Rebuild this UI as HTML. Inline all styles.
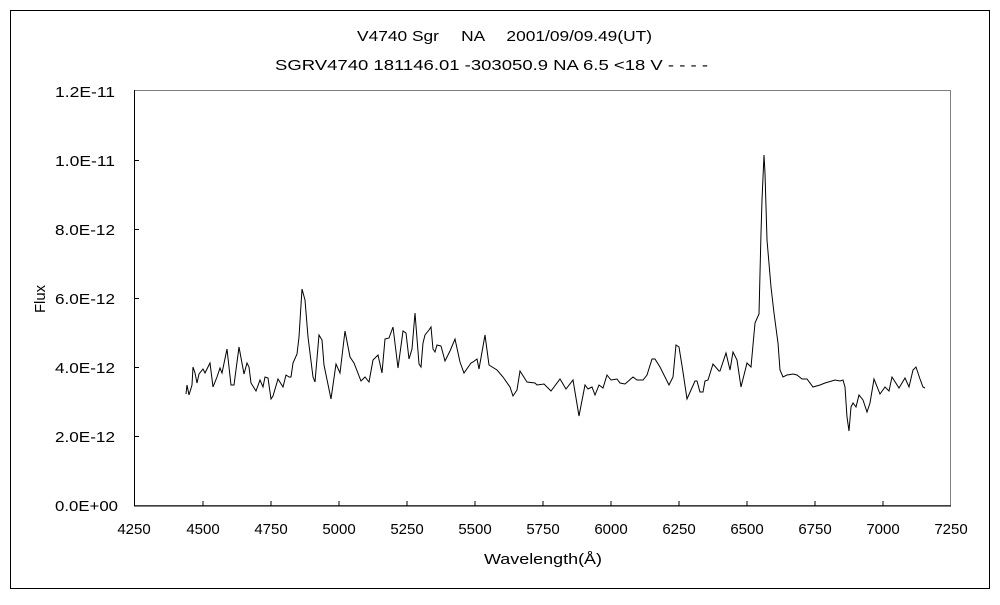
<!DOCTYPE html>
<html><head><meta charset="utf-8"><style>body{margin:0;background:#fff}</style></head><body>
<svg width="1000" height="600" xmlns="http://www.w3.org/2000/svg" font-family="'Liberation Sans','Noto Sans CJK JP',sans-serif" font-size="15">
<rect x="0" y="0" width="1000" height="600" fill="#fff"/>
<rect x="10.5" y="10.5" width="979" height="578" fill="none" stroke="#000"/>
<text x="357" y="41" textLength="295" lengthAdjust="spacingAndGlyphs">V4740 Sgr　 NA　 2001/09/09.49(UT)</text>
<text x="275" y="70" textLength="433" lengthAdjust="spacingAndGlyphs">SGRV4740 181146.01 -303050.9 NA 6.5 &lt;18 V - - - -</text>
<rect x="134.5" y="90.5" width="816" height="415" fill="none" stroke="#808080"/>
<path d="M134.5 90 V506 H951" fill="none" stroke="#000"/>
<g stroke="#000">
<path d="M203 506v-5M271 506v-5M339 506v-5M407 506v-5M475 506v-5M543 506v-5M611 506v-5M679 506v-5M747 506v-5M815 506v-5M883 506v-5"/>
<path d="M134 436.5h5M134 367.5h5M134 298.5h5M134 229.5h5M134 160.5h5"/>
</g>
<g>
<text x="55" y="97" textLength="60" lengthAdjust="spacingAndGlyphs">1.2E-11</text>
<text x="55" y="166" textLength="60" lengthAdjust="spacingAndGlyphs">1.0E-11</text>
<text x="55" y="235" textLength="60" lengthAdjust="spacingAndGlyphs">8.0E-12</text>
<text x="55" y="304" textLength="60" lengthAdjust="spacingAndGlyphs">6.0E-12</text>
<text x="55" y="373" textLength="60" lengthAdjust="spacingAndGlyphs">4.0E-12</text>
<text x="55" y="442" textLength="60" lengthAdjust="spacingAndGlyphs">2.0E-12</text>
<text x="55" y="511" textLength="63" lengthAdjust="spacingAndGlyphs">0.0E+00</text>
</g>
<g text-anchor="middle">
<text x="134" y="534">4250</text><text x="203" y="534">4500</text><text x="271" y="534">4750</text><text x="339" y="534">5000</text><text x="407" y="534">5250</text><text x="475" y="534">5500</text><text x="543" y="534">5750</text><text x="611" y="534">6000</text><text x="679" y="534">6250</text><text x="747" y="534">6500</text><text x="815" y="534">6750</text><text x="883" y="534">7000</text><text x="951" y="534">7250</text>
<text x="543" y="564" textLength="118" lengthAdjust="spacingAndGlyphs">Wavelength(Å)</text>
<text x="0" y="0" transform="translate(45,299) rotate(-90)" textLength="28" lengthAdjust="spacingAndGlyphs">Flux</text>
</g>
<polyline fill="none" stroke="#000" stroke-width="1" points="186,394 187,385 189,395 192,385 193,367 195,373 197,383 199,374 203,369 205,373 210,363 213,387 217,377 220,368 222,373 227,349 231,385 234,385 239,347 244,374 247,363 249,367 251,383 256,391 260,380 263,387 265,377 268,378 271,399 273,396 278,379 283,387 286,375 289,377 291,377 293,363 297,354 299,337 302,289 305,300 308,337 313,377 315,382 319,335 322,340 324,365 331,399 336,364 340,373 345,331 350,357 354,363 361,381 365,377 369,382 373,360 378,355 382,373 385,339 389,338 393,327 398,368 403,331 406,333 409,359 412,349 415,313 419,364 421,367 423,343 425,335 429,330 431,327 433,349 435,352 437,345 441,346 445,361 450,351 455,339 460,362 464,373 471,363 473,362 477,359 479,369 485,335 489,365 497,370 503,377 510,387 513,396 517,390 520,371 527,382 535,383 537,385 544,384 551,391 560,379 566,389 573,380 579,416 585,385 588,389 592,387 595,395 599,385 603,388 607,375 611,380 617,379 620,383 625,384 633,377 637,380 643,380 647,375 652,359 655,359 660,367 669,385 673,377 676,345 679,347 683,372 687,399 691,390 695,381 697,381 700,392 703,392 705,381 708,380 713,364 719,371 720,371 726,353 730,370 733,352 737,360 741,387 747,363 751,367 755,323 759,314 761,233 762,200 764,155 765,173 767,240 771,287 774,313 778,343 780,370 783,377 787,375 793,374 797,375 802,379 807,379 813,387 820,385 825,383 835,380 840,381 843,380 845,387 847,417 849,431 851,407 853,403 856,407 859,395 863,400 867,412 870,403 874,379 880,394 885,387 889,391 892,377 899,388 905,378 909,387 913,370 916,367 920,379 923,387 925,388"/>
</svg>
</body></html>
